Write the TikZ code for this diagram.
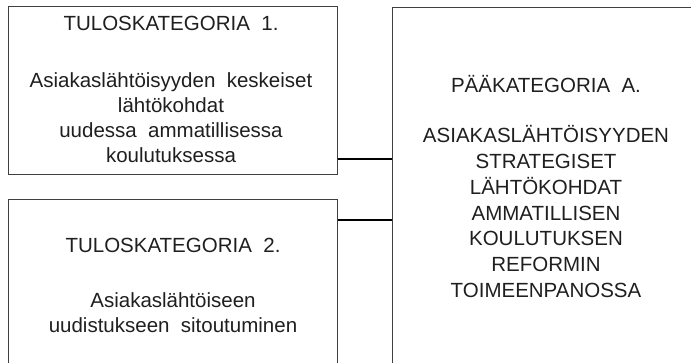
\documentclass[tikz,border=0pt]{standalone}
\usepackage{fontspec}
\setmainfont{Liberation Sans}
\begin{document}
\begin{tikzpicture}[x=1pt,y=-1pt,
  box/.style={draw=black!75,line width=1pt,minimum width=329pt,inner sep=0pt},
  mainbox/.style={draw=black!75,line width=1pt,inner sep=0pt},
  conn/.style={draw=black,line width=2pt},
  txt/.style={anchor=base,inner sep=0pt,text=black!88,font=\fontsize{20.5}{25.5}\selectfont}]
\useasboundingbox (0,0) rectangle (691,363);
\clip (0,0) rectangle (691,363);

% result categories (left) and main category (right)
\node[box,minimum height=168pt] (t1) at (172.5,91) {};
\node[box,minimum height=180pt] (t2) at (172.5,290) {};
\node[mainbox,minimum width=320pt,minimum height=370pt] (pa) at (552,193) {};

% connectors
\draw[conn] (t1.east |- 0,159) -- (pa.west |- 0,159);
\draw[conn] (t2.east |- 0,220) -- (pa.west |- 0,220);

% texts of result category 1
\node[txt] (t1h) at (171,31) {TULOSKATEGORIA~~1.};
\node[txt] (t1a) at (171,88) {Asiakaslähtöisyyden~~keskeiset};
\node[txt] (t1b) at (171,113) {lähtökohdat};
\node[txt] (t1c) at (171,138) {uudessa~~ammatillisessa};
\node[txt] (t1d) at (171,163) {koulutuksessa};

% texts of result category 2
\node[txt] (t2h) at (173,253) {TULOSKATEGORIA~~2.};
\node[txt] (t2a) at (173,308) {Asiakaslähtöiseen};
\node[txt] (t2b) at (173,333) {uudistukseen~~sitoutuminen};

% texts of main category A
\node[txt] (pah) at (546,93) {PÄÄKATEGORIA~~A.};
\node[txt] (pa1) at (546,143) {ASIAKASLÄHTÖISYYDEN};
\node[txt] (pa2) at (546,168.7) {STRATEGISET};
\node[txt] (pa3) at (546,194.4) {LÄHTÖKOHDAT};
\node[txt] (pa4) at (546,220.1) {AMMATILLISEN};
\node[txt] (pa5) at (546,245.8) {KOULUTUKSEN};
\node[txt] (pa6) at (546,271.5) {REFORMIN};
\node[txt] (pa7) at (546,297.2) {TOIMEENPANOSSA};
\end{tikzpicture}
\end{document}
